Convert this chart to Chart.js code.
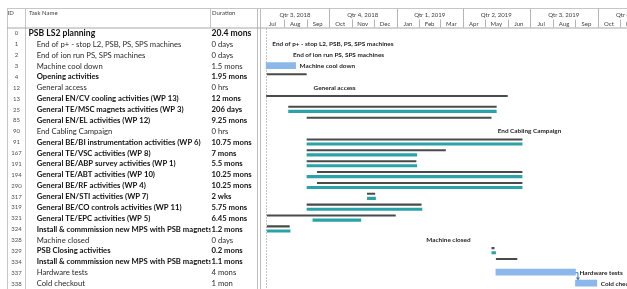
<!DOCTYPE html>
<html><head><meta charset="utf-8">
<script src="https://cdn.jsdelivr.net/npm/chart.js@4.4.1/dist/chart.umd.min.js"></script>
<style>html,body{margin:0;padding:0;background:#fff;overflow:hidden}</style>
</head><body>
<canvas id="c" width="627" height="289"></canvas>
<script>
// ---------- data ----------
const rowIds = [0,1,2,3,4,12,13,25,85,90,91,167,191,194,290,317,319,321,324,328,329,334,337,338];
const taskNames = ['PSB LS2 planning','End of p+ - stop L2, PSB, PS, SPS machines','End of ion run PS, SPS machines','Machine cool down','Opening activities','General access','General EN/CV cooling activities (WP 13)','General TE/MSC magnets activities (WP 3)','General EN/EL activities (WP 12)','End Cabling Campaign','General BE/BI instrumentation activities (WP 6)','General TE/VSC activities (WP 8)','General BE/ABP survey activities (WP 1)','General TE/ABT activities (WP 10)','General BE/RF activities (WP 4)','General EN/STI activities (WP 7)','General BE/CO controls activities (WP 11)','General TE/EPC activities (WP 5)','Install & commmission new MPS with PSB magnets ON','Machine closed','PSB Closing activities','Install & commmission new MPS with PSB magnets ON','Hardware tests','Cold checkout'];
const durations = ['20.4 mons','0 days','0 days','1.5 mons','1.95 mons','0 hrs','12 mons','206 days','9.25 mons','0 hrs','10.75 mons','7 mons','5.5 mons','10.25 mons','10.25 mons','2 wks','5.75 mons','6.45 mons','1.2 mons','0 days','0.2 mons','1.1 mons','4 mons','1 mon'];
const outlineLevel = [0,1,1,1,1,1,1,1,1,1,1,1,1,1,1,1,1,1,1,1,1,1,1,1];
const isSummary = [1,0,0,0,1,0,1,1,1,0,1,1,1,1,1,1,1,1,1,0,1,1,0,0];
// summary (grey) bars: [start, end] per row, null = none
const summaryBars = [null,null,null,null,['2018-07-09','2018-09-01'],null,['2018-07-08','2019-06-01'],['2018-08-07','2019-05-17'],['2018-09-01','2019-05-10'],null,['2018-09-01','2019-06-21'],['2018-09-01','2019-03-09'],['2018-09-01','2019-01-28'],['2018-09-15','2019-06-21'],['2018-09-15','2019-06-21'],['2018-11-22','2018-12-03'],['2018-09-01','2019-02-04'],['2018-07-09','2018-12-31'],['2018-07-09','2018-08-09'],null,['2019-05-10','2019-05-14'],['2019-05-16','2019-06-14'],null,null];
// rolled-up sub-task (teal) bars
const rollupBars = [null,null,null,null,null,null,null,['2018-08-07','2019-05-17'],null,null,['2018-09-01','2019-06-21'],['2018-09-01','2019-01-29'],['2018-09-01','2019-01-29'],['2018-09-01','2019-06-21'],['2018-09-01','2019-06-21'],['2018-11-22','2018-12-04'],['2018-09-01','2019-02-05'],['2018-09-09','2018-11-14'],['2018-07-09','2018-08-10'],null,['2019-05-10','2019-05-16'],null,null,null];
// plain task (blue) bars
const taskBars = [null,null,null,['2018-07-08','2018-08-17'],null,null,null,null,null,null,null,null,null,null,null,null,null,null,null,null,null,null,['2019-05-16','2019-09-01'],['2019-09-01','2019-09-30']];
// milestones (0 duration)
const milestones = [null,'2018-07-11','2018-08-08',null,null,'2018-09-05',null,null,null,'2019-05-13',null,null,null,null,null,null,null,null,null,'2019-02-05',null,null,null,null];
const quarterLabels = ['Qtr 3, 2018','Qtr 4, 2018','Qtr 1, 2019','Qtr 2, 2019','Qtr 3, 2019','Qtr 4, 2019'];
const monthLabels = ['Jul','Aug','Sep','Oct','Nov','Dec','Jan','Feb','Mar','Apr','May','Jun','Jul','Aug','Sep','Oct','Nov','Dec'];
const timelineStart = '2018-07-01';
const timelineEnd = '2019-11-10';
const statusDate = '2018-07-08';

// ---------- helpers ----------
const T0 = Date.parse(timelineStart + 'T00:00:00Z');
const day = s => (Date.parse(s + 'T00:00:00Z') - T0) / 864e5;
const toRange = b => b ? [day(b[0]), day(b[1])] : null;
const monthStart = k => { const d = new Date(T0); d.setUTCMonth(d.getUTCMonth() + k); return (d - T0) / 864e5; };

const FONT = 'Lato, "Open Sans", sans-serif';
const GREY_LINE = '#c6c6c6';

const ganttPlugin = {
  id: 'gantt',
  beforeDatasetsDraw(chart) {
    const {ctx, scales: {x, y}, chartArea: ca} = chart;
    const W = chart.width, H = chart.height;
    const hTop = 8.5, hBot = 27.5;
    ctx.save();
    ctx.lineWidth = 1;
    const line = (x1, y1, x2, y2, c) => { ctx.strokeStyle = c || GREY_LINE; ctx.beginPath(); ctx.moveTo(x1, y1); ctx.lineTo(x2, y2); ctx.stroke(); };
    line(7, hTop, W, hTop);
    line(7.5, hTop, 7.5, H);
    line(25.5, hTop, 25.5, H);
    line(210.5, hTop, 210.5, hBot);
    line(257.5, hTop, 257.5, H, '#bdbdbd');
    line(260.5, hTop, 260.5, H, '#bdbdbd');
    line(7, hBot + 0.5, W, hBot + 0.5, '#a8a8a8');
    // table header text
    ctx.fillStyle = '#404040'; ctx.textBaseline = 'middle';
    ctx.font = '6px ' + FONT;
    ctx.textAlign = 'left';
    ctx.fillText('ID', 7.5, 13.5);
    ctx.fillText('Task Name', 29, 13.5);
    ctx.fillText('Duration', 212, 13.5);
    // timeline header
    ctx.save();
    ctx.beginPath(); ctx.rect(ca.left, 0, ca.right - ca.left, H); ctx.clip();
    ctx.textAlign = 'center';
    for (let k = 0; k < monthLabels.length; k++) {
      const a = x.getPixelForValue(monthStart(k)), b = x.getPixelForValue(monthStart(k + 1));
      if (k > 0) line(Math.round(a) + 0.5, 19.5, Math.round(a) + 0.5, hBot, '#b4b4b4');
      ctx.fillStyle = '#404040';
      ctx.fillText(monthLabels[k], (a + b) / 2, 23.8);
    }
    for (let q = 0; q < quarterLabels.length; q++) {
      const a = x.getPixelForValue(monthStart(3 * q)), b = x.getPixelForValue(monthStart(3 * q + 3));
      if (q > 0) line(Math.round(a) + 0.5, hTop, Math.round(a) + 0.5, hBot, '#b4b4b4');
      ctx.fillStyle = '#404040';
      ctx.fillText(quarterLabels[q], (a + b) / 2, 15.2);
    }
    // status date dotted line
    ctx.setLineDash([1, 2]);
    const sx = Math.round(x.getPixelForValue(day(statusDate))) + 0.5;
    line(sx, hBot + 1, sx, H, '#8a8a8a');
    ctx.setLineDash([]);
    ctx.restore();
    // table rows
    rowIds.forEach((id, i) => {
      const yc = y.getPixelForValue(i) + 0.5;
      ctx.textAlign = 'center'; ctx.fillStyle = '#505050';
      ctx.font = '6px ' + FONT;
      ctx.fillText(String(id), 16.5, yc);
      const top = i === 0;
      const bold = isSummary[i];
      ctx.font = (bold ? 'bold ' : '') + (top ? '8.6px ' : '7.7px ') + FONT;
      ctx.fillStyle = bold ? '#111' : '#2a2a2a';
      ctx.textAlign = 'left';
      ctx.save();
      ctx.beginPath(); ctx.rect(26, yc - 6, 184.5, 12); ctx.clip();
      ctx.fillText(taskNames[i], outlineLevel[i] ? 36.7 : 28.5, yc);
      ctx.restore();
      ctx.fillText(durations[i], 211.5, yc);
    });
    ctx.restore();
  },
  afterDatasetsDraw(chart) {
    const {ctx, scales: {x, y}} = chart;
    ctx.save();
    ctx.textBaseline = 'middle'; ctx.textAlign = 'left';
    ctx.font = 'bold 6.4px ' + FONT; ctx.fillStyle = '#1e1e1e';
    milestones.forEach((m, i) => {
      if (!m) return;
      ctx.fillText(taskNames[i], x.getPixelForValue(day(m)) + 4, y.getPixelForValue(i) + 0.5);
    });
    taskBars.forEach((b, i) => {
      if (!b) return;
      ctx.fillText(taskNames[i], x.getPixelForValue(day(b[1])) + 4, y.getPixelForValue(i) + 0.5);
    });
    // link Hardware tests -> Cold checkout
    const i1 = 22, i2 = 23;
    const ex = x.getPixelForValue(day(taskBars[i1][1]));
    const y1 = y.getPixelForValue(i1), y2 = y.getPixelForValue(i2) - 3;
    ctx.strokeStyle = '#3a78d8'; ctx.fillStyle = '#3a78d8'; ctx.lineWidth = 1;
    ctx.beginPath(); ctx.moveTo(ex, y1 + 0.5); ctx.lineTo(ex + 2.5, y1 + 0.5); ctx.lineTo(ex + 2.5, y2 - 2); ctx.stroke();
    ctx.beginPath(); ctx.moveTo(ex + 0.5, y2 - 2.5); ctx.lineTo(ex + 4.5, y2 - 2.5); ctx.lineTo(ex + 2.5, y2 + 0.5); ctx.closePath(); ctx.fill();
    ctx.restore();
  }
};

new Chart(document.getElementById('c'), {
  type: 'bar',
  data: {
    labels: taskNames,
    datasets: [
      { label: 'Summary', data: summaryBars.map(toRange), backgroundColor: '#4a4a4a', borderWidth: 0,
        grouped: true, categoryPercentage: 0.85, barPercentage: 0.45 },
      { label: 'Rolled-up tasks', data: rollupBars.map(toRange), backgroundColor: '#2aa3a8', borderWidth: 0,
        grouped: true, categoryPercentage: 0.85, barPercentage: 0.68 },
      { label: 'Tasks', data: taskBars.map(toRange), backgroundColor: '#8cb7ea', borderWidth: 0,
        grouped: false, barThickness: 6 }
    ]
  },
  options: {
    indexAxis: 'y', responsive: false, animation: false, events: [],
    layout: { padding: { left: 261, top: 27.6, right: 0, bottom: 0.5 } },
    scales: {
      x: { type: 'linear', min: 0, max: day(timelineEnd), display: false },
      y: { type: 'category', display: false, offset: true }
    },
    plugins: { legend: { display: false }, tooltip: { enabled: false } }
  },
  plugins: [ganttPlugin]
});
</script>
</body></html>
